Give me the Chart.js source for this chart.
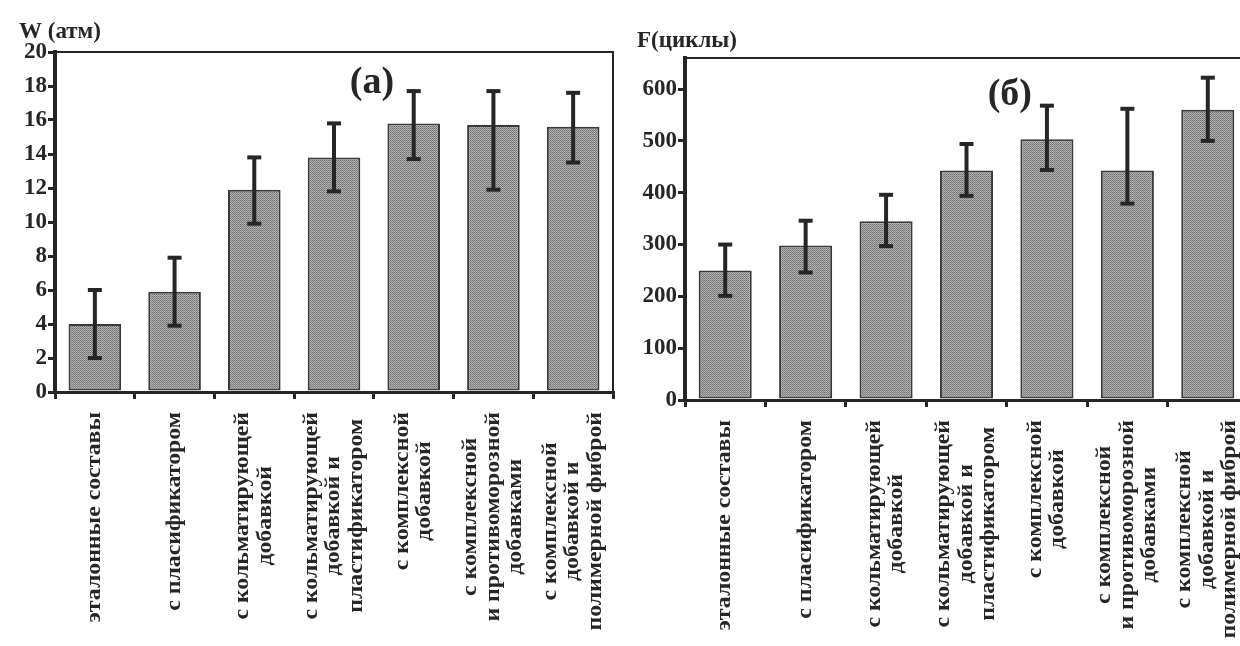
<!DOCTYPE html>
<html><head><meta charset="utf-8">
<script src="https://cdn.jsdelivr.net/npm/chart.js@4"></script>
<style>
html,body{margin:0;padding:0;background:#fff;overflow:hidden;width:1240px;height:646px;position:relative}
#wrapA{position:absolute;left:0;top:0;width:620px;height:646px}
#wrapB{position:absolute;left:620px;top:0;width:640px;height:646px}
</style></head><body>
<div id="wrapA"><canvas id="cA" width="620" height="646"></canvas></div>
<div id="wrapB"><canvas id="cB" width="640" height="646"></canvas></div>
<script>
// ---- data ----
const categories = [
  ["эталонные составы"],
  ["с пласификатором"],
  ["с кольматирующей", "добавкой"],
  ["с кольматирующей", "добавкой и", "пластификатором"],
  ["с комплексной", "добавкой"],
  ["с комплексной", "и противоморозной", "добавками"],
  ["с комплексной", "добавкой и", "полимерной фиброй"]
];
const wValues  = [4.0, 5.9, 11.9, 13.8, 15.8, 15.7, 15.6];
const wErrLow  = [2.0, 3.9, 9.9, 11.8, 13.7, 11.9, 13.5];
const wErrHigh = [6.0, 7.9, 13.8, 15.8, 17.7, 17.7, 17.6];
const fValues  = [250, 298, 345, 443, 503, 443, 560];
const fErrLow  = [201, 246, 297, 394, 444, 379, 500];
const fErrHigh = [300, 346, 396, 494, 568, 562, 622];
const wTicks = [0, 2, 4, 6, 8, 10, 12, 14, 16, 18, 20];
const fTicks = [0, 100, 200, 300, 400, 500, 600];
const wTitle = "W (атм)";
const fTitle = "F(циклы)";
const wPanel = "(a)";
const fPanel = "(б)";

// ---- style ----
const INK = '#262626';
const SERIF = "'Liberation Serif', 'Times New Roman', serif";

function makePattern() {
  const pc = document.createElement('canvas');
  pc.width = 4; pc.height = 2;
  const p = pc.getContext('2d');
  p.fillStyle = '#bababa'; p.fillRect(0, 0, 4, 2);
  p.fillStyle = '#aaaaaa'; p.fillRect(0, 0, 4, 1);
  p.fillStyle = '#6e6e6e'; p.fillRect(0, 0, 1, 1); p.fillRect(2, 0, 1, 1);
  p.fillStyle = '#858585'; p.fillRect(1, 1, 1, 1); p.fillRect(3, 1, 1, 1);
  return p.createPattern(pc, 'repeat');
}

function makeChart(canvasId, values, errLow, errHigh, ticks, yMax, title, panel, geom) {
  const ctx = document.getElementById(canvasId).getContext('2d');
  const pattern = makePattern();
  const overlay = {
    id: 'overlay',
    afterDatasetsDraw(chart) {
      const c = chart.ctx, xs = chart.scales.x, ys = chart.scales.y;
      c.save();
      c.strokeStyle = INK; c.lineCap = 'butt';
      for (let i = 0; i < values.length; i++) {
        const x = xs.getPixelForValue(i);
        const yh = ys.getPixelForValue(errHigh[i]);
        const yl = ys.getPixelForValue(errLow[i]);
        c.lineWidth = 4;
        c.beginPath(); c.moveTo(x, yh); c.lineTo(x, yl); c.stroke();
        c.beginPath(); c.moveTo(x - 7, yh); c.lineTo(x + 7, yh); c.stroke();
        c.beginPath(); c.moveTo(x - 7, yl); c.lineTo(x + 7, yl); c.stroke();
      }
      c.restore();
    },
    afterDraw(chart) {
      const c = chart.ctx, a = chart.chartArea, xs = chart.scales.x;
      c.save();
      // frame
      c.strokeStyle = INK; c.lineWidth = 2;
      c.beginPath(); c.moveTo(a.left, a.top); c.lineTo(a.right, a.top);
      if (geom.rightFrame) c.lineTo(a.right, a.bottom);
      c.stroke();
      // axis title
      c.fillStyle = INK;
      c.font = 'bold ' + geom.titleSize + 'px ' + SERIF;
      c.textAlign = 'left'; c.textBaseline = 'alphabetic';
      c.fillText(title, a.left + geom.titleDx, a.top + geom.titleDy);
      // panel label
      c.font = 'bold 38px ' + SERIF;
      c.textAlign = 'center'; c.textBaseline = 'middle';
      c.fillText(panel, a.left + geom.panelFx * (a.right - a.left), a.top + geom.panelDy);
      // category labels
      c.font = 'bold 20px ' + SERIF;
      for (let i = 0; i < categories.length; i++) {
        const lines = categories[i];
        const x = xs.getPixelForValue(i);
        c.save();
        c.translate(x, a.bottom + 20);
        c.rotate(-Math.PI / 2);
        c.scale(1.19, 1);
        const maxW = Math.max(...lines.map(l => c.measureText(l).width));
        const n = lines.length;
        c.textAlign = 'center'; c.textBaseline = 'middle';
        lines.forEach((l, j) => c.fillText(l, -maxW / 2, (j - (n - 1) / 2) * 22.5));
        c.restore();
      }
      c.restore();
    }
  };
  return new Chart(ctx, {
    type: 'bar',
    data: {
      labels: categories.map(l => l.join(' ')),
      datasets: [{
        data: values,
        backgroundColor: pattern,
        borderColor: '#3a3a3a',
        borderWidth: 2,
        borderSkipped: false,
        barPercentage: 0.66,
        categoryPercentage: 1.0
      }]
    },
    options: {
      responsive: false,
      animation: false,
      devicePixelRatio: 1,
      layout: { padding: { left: 0, top: geom.top, right: geom.right, bottom: 0 } },
      plugins: { legend: { display: false }, tooltip: { enabled: false }, title: { display: false } },
      scales: {
        x: {
          offset: true,
          grid: { display: true, offset: true, drawOnChartArea: false, drawTicks: true, tickLength: 7, color: INK, lineWidth: 3 },
          border: { display: true, color: INK, width: 3 },
          ticks: { display: false },
          afterFit(s) { s.height = geom.xHeight; }
        },
        y: {
          min: 0, max: yMax,
          afterBuildTicks(s) { s.ticks = ticks.map(v => ({ value: v })); },
          grid: { display: true, drawOnChartArea: false, drawTicks: true, tickLength: 7, color: INK, lineWidth: 3 },
          border: { display: true, color: INK, width: 4 },
          ticks: { color: INK, padding: 1, font: { family: SERIF, size: geom.tickSize, weight: 'bold' } },
          afterFit(s) { s.width = geom.yWidth; }
        }
      }
    },
    plugins: [overlay]
  });
}

makeChart('cA', wValues, wErrLow, wErrHigh, wTicks, 20, wTitle, wPanel, {
  top: 52, right: 7, xHeight: 254, yWidth: 55, tickSize: 23,
  rightFrame: true, titleDx: -36, titleDy: -14, titleSize: 23,
  panelFx: 0.568, panelDy: 31
});
makeChart('cB', fValues, fErrLow, fErrHigh, fTicks, 660, fTitle, fPanel, {
  top: 58, right: 12, xHeight: 246, yWidth: 65, tickSize: 23,
  rightFrame: false, titleDx: -48, titleDy: -11, titleSize: 23,
  panelFx: 0.577, panelDy: 37
});
</script>
</body></html>
